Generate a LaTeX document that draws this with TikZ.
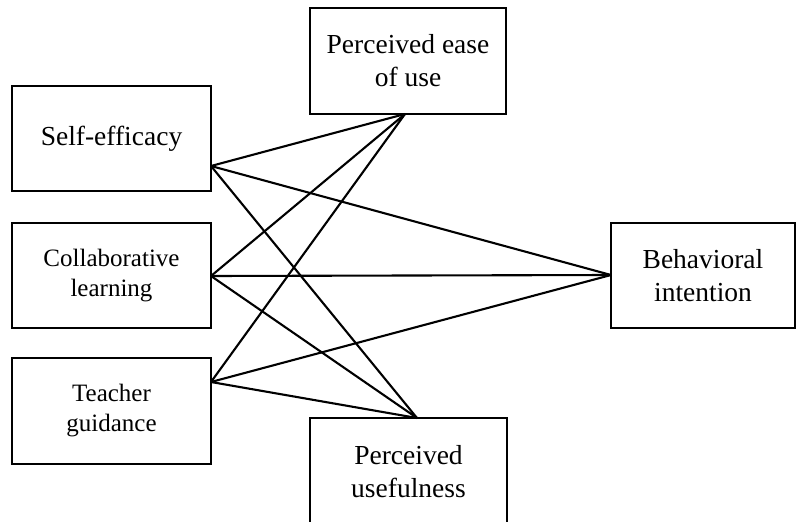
\documentclass[tikz,border=0pt]{standalone}
\usepackage{fontspec}
\setmainfont{Liberation Serif}
\begin{document}
\begin{tikzpicture}[x=1pt,y=-1pt,
  box/.style={draw,line width=2.2pt,rectangle,align=center,inner sep=0pt,
    font=\fontsize{27.5}{33}\selectfont},
  smallbox/.style={box,font=\fontsize{25}{30}\selectfont},
  link/.style={line width=2.1pt}]
\useasboundingbox (0,0) rectangle (796,522);
\clip (0,0) rectangle (796,522);
\fill[white] (0,0) rectangle (796,522);
\node[box,minimum width=199pt,minimum height=105pt] (se) at (111.5,138.5) {Self-efficacy};
\node[smallbox,minimum width=199pt,minimum height=105pt] (cl) at (111.5,275.5) {Collaborative\\learning};
\node[smallbox,minimum width=199pt,minimum height=106pt] (tg) at (111.5,411) {Teacher\\guidance};
\node[box,minimum width=196pt,minimum height=106pt] (ease) at (408,61) {Perceived ease\\of use};
\node[box,minimum width=197pt,minimum height=108pt] (pu) at (408.5,472) {Perceived\\usefulness};
\node[box,minimum width=184pt,minimum height=105pt] (bi) at (703,275.5) {Behavioral\\intention};
\coordinate (seport) at (211,166);
\coordinate (clport) at (211,276);
\coordinate (tgport) at (211,382);
\coordinate (easeport) at (405,114);
\coordinate (puport) at (417,418);
\coordinate (biport) at (611,275);
\foreach \s in {seport,clport,tgport}{
  \draw[link] (\s) -- (easeport);
  \draw[link] (\s) -- (biport);
  \draw[link] (\s) -- (puport);
}
\end{tikzpicture}
\end{document}
